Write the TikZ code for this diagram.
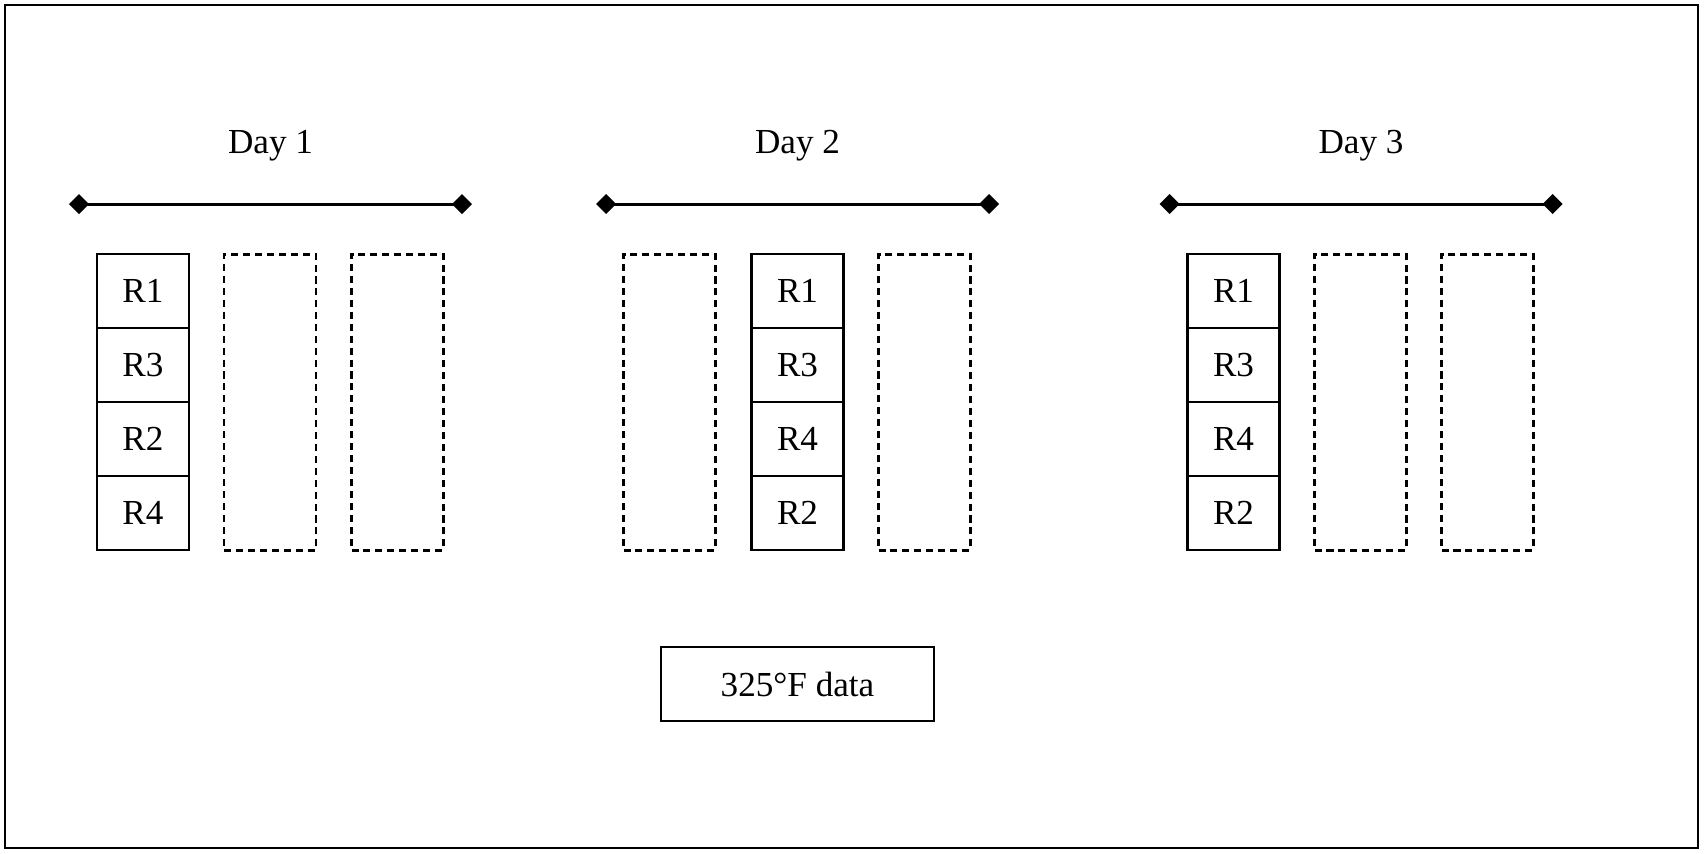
\documentclass[tikz,border=0pt]{standalone}
\usepackage{fontspec}
\setmainfont{Liberation Serif}
\usetikzlibrary{arrows.meta, positioning}

\begin{document}
\begin{tikzpicture}[
                cell/.style={rectangle, draw, line width=0.6pt, outer sep=0pt, minimum width=0.92cm, minimum height=0.74cm},
                slot/.style={rectangle, draw, line width=0.85pt, dash pattern=on 2pt off 1.4pt, minimum width=0.92cm, minimum height=2.96cm},
                daylabel/.style={anchor=base},
                dayline/.style={line width=0.85pt, {Diamond[length=2mm, width=2mm]}-{Diamond[length=2mm, width=2mm]}},
                databox/.style={rectangle, draw, line width=0.6pt, minimum width=2.73cm, minimum height=0.74cm}
            ]
                \useasboundingbox (0,0) rectangle (17.04,8.53);
                \draw[line width=0.6pt] (0.05,0.05) rectangle (16.98,8.48);

                % Day labels and ranges
                \node[daylabel] (day1) at (2.705,7.00) {Day 1};
                \node[daylabel] (day2) at (7.975,7.00) {Day 2};
                \node[daylabel] (day3) at (13.61,7.00) {Day 3};
                \coordinate (d1l) at (0.69,6.49);
                \coordinate (d1r) at (4.72,6.49);
                \coordinate (d2l) at (5.96,6.49);
                \coordinate (d2r) at (9.99,6.49);
                \coordinate (d3l) at (11.595,6.49);
                \coordinate (d3r) at (15.625,6.49);
                \draw[dayline] (d1l) -- (d1r);
                \draw[dayline] (d2l) -- (d2r);
                \draw[dayline] (d3l) -- (d3r);

                % Day 1
                \node[cell] (a1) at (1.43,5.62) {R1};
                \node[cell, below=0pt of a1] (a2) {R3};
                \node[cell, below=0pt of a2] (a3) {R2};
                \node[cell, below=0pt of a3] (a4) {R4};
                \node[slot] (s12) at (2.70,4.51) {};
                \node[slot] (s13) at (3.975,4.51) {};

                % Day 2
                \node[slot] (s21) at (6.695,4.51) {};
                \node[cell] (b1) at (7.975,5.62) {R1};
                \node[cell, below=0pt of b1] (b2) {R3};
                \node[cell, below=0pt of b2] (b3) {R4};
                \node[cell, below=0pt of b3] (b4) {R2};
                \node[slot] (s23) at (9.245,4.51) {};

                % Day 3
                \node[cell] (c1) at (12.335,5.62) {R1};
                \node[cell, below=0pt of c1] (c2) {R3};
                \node[cell, below=0pt of c2] (c3) {R4};
                \node[cell, below=0pt of c3] (c4) {R2};
                \node[slot] (s32) at (13.605,4.51) {};
                \node[slot] (s33) at (14.875,4.51) {};

                % Data
                \node[databox] (data) at (7.975,1.69) {325°F data};
            \end{tikzpicture}
\end{document}
